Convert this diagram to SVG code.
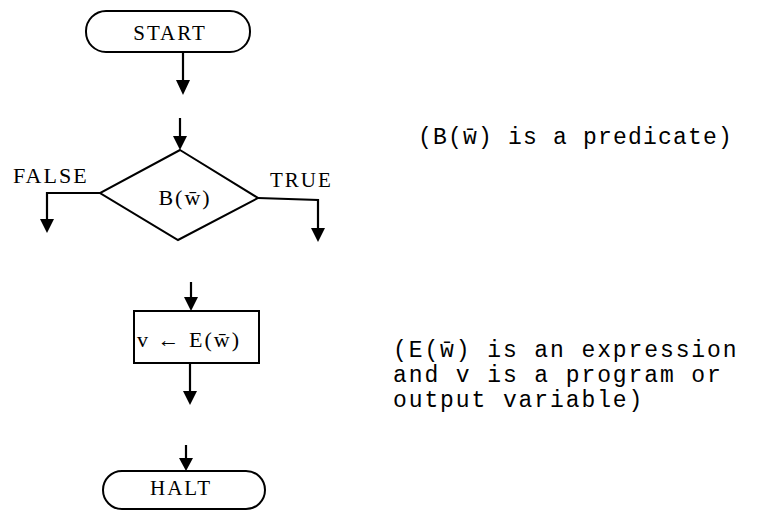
<svg xmlns="http://www.w3.org/2000/svg" width="762" height="511" viewBox="0 0 762 511">
<style>
.s{fill:none;stroke:#000;stroke-width:2}
.c{fill:none;stroke:#000;stroke-width:2.2}
.t{font-family:"Liberation Serif",serif;font-size:21px;letter-spacing:2px;fill:#000}
.m{font-family:"Liberation Mono",monospace;font-size:23px;letter-spacing:1.9px;fill:#000}
</style>
<rect width="762" height="511" fill="#fff"/>
<g id="connectors">
<path class="c" d="M183,52 V80"/><path d="M176,80 L190,80 L183,95 Z"/>
<path class="c" d="M180,118 V136"/><path d="M173,136 L187,136 L180,150 Z"/>
<path class="c" d="M100,193 H47 V220"/><path d="M40,219 L54,219 L47,233 Z"/>
<path class="c" d="M258,198 L318,200 V229"/><path d="M311,228 L325,228 L318,242 Z"/>
<path class="c" d="M191,282 V297"/><path d="M184,297 L198,297 L191,311 Z"/>
<path class="c" d="M190,363 V392"/><path d="M183,391 L197,391 L190,405 Z"/>
<path class="c" d="M186,445 V458"/><path d="M179,458 L193,458 L186,471 Z"/>
</g>
<g id="start">
<rect class="s" x="86" y="11" width="164" height="41" rx="20"/>
<text class="t" x="170" y="40" text-anchor="middle">START</text>
</g>
<g id="decision">
<polygon class="s" points="180,150 258,198 178,240 100,193"/>
<text class="t" x="185" y="205" text-anchor="middle" style="font-size:22px">B(w̄)</text>
</g>
<g id="false-label"><text class="t" x="13" y="183" style="font-size:22px">FALSE</text></g>
<g id="true-label"><text class="t" x="270" y="187">TRUE</text></g>
<g id="assign">
<rect class="s" x="134" y="311" width="125" height="52"/>
<text class="t" x="137" y="347" style="font-size:22px">v ← E(w̄)</text>
</g>
<g id="halt">
<rect class="s" x="103" y="471" width="162" height="38" rx="19"/>
<text class="t" x="181" y="495" text-anchor="middle">HALT</text>
</g>
<g id="note-predicate"><text class="m" x="418" y="144" style="letter-spacing:1.2px">(B(w̄) is a predicate)</text></g>
<g id="note-expression">
<text class="m" x="393" y="357">(E(w̄) is an expression</text>
<text class="m" x="393" y="382">and v is a program or</text>
<text class="m" x="393" y="407">output variable)</text>
</g>
</svg>
